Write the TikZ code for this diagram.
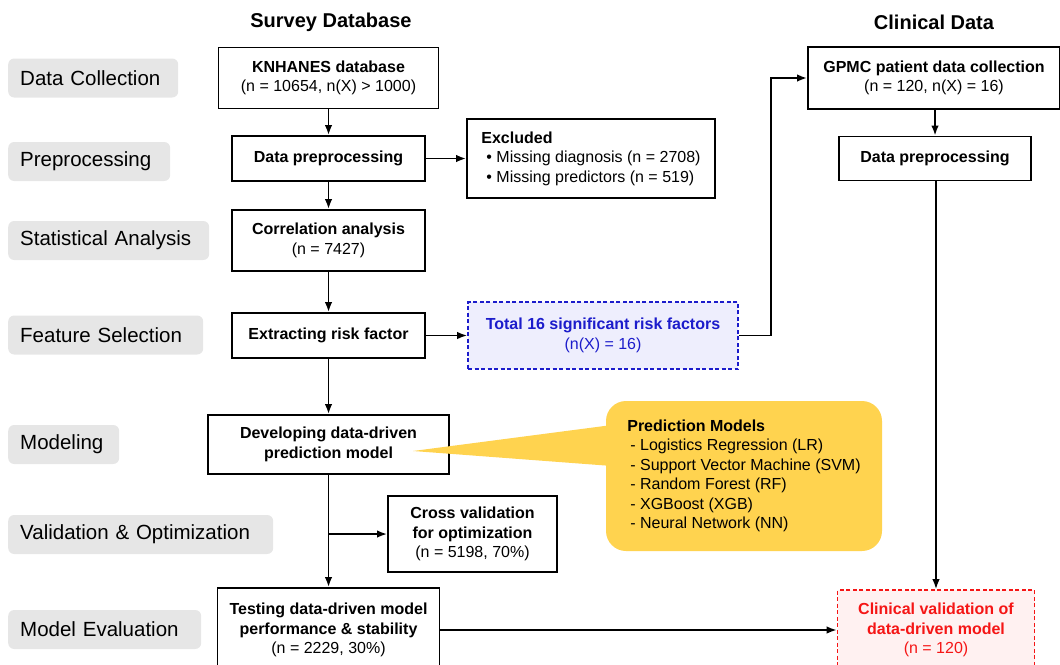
\documentclass[tikz,border=0pt]{standalone}
\usepackage{fontspec}
\setmainfont{Liberation Sans}
\usetikzlibrary{arrows.meta}

\definecolor{stagegray}{HTML}{E6E6E6}
\definecolor{calloutyellow}{HTML}{FFD34F}
\definecolor{factorblue}{HTML}{1C1CCB}
\definecolor{factorfill}{HTML}{EEEEFD}
\definecolor{clinred}{HTML}{F51515}
\definecolor{clinfill}{HTML}{FFF1F1}

\tikzset{
  stage/.style={fill=stagegray,rounded corners=6pt,minimum height=39pt,inner xsep=12pt,
    anchor=west,align=left,font=\fontsize{20.5}{24}\selectfont},
  flowbox/.style={draw,line width=1.9pt,align=center,inner sep=0pt,font=\fontsize{16}{19.5}\selectfont},
  arr/.style={-{Latex[length=10pt,width=7.5pt]},line width=1.7pt},
}

\begin{document}
\begin{tikzpicture}[x=1pt,y=-1pt]
  \clip (0,0) rectangle (1060,664);

  % column titles
  \path (331,22) node[font=\bfseries\fontsize{20}{24}\selectfont] (survey) {Survey Database};
  \path (934,22) node[font=\bfseries\fontsize{20}{24}\selectfont] (clinical) {Clinical Data};

  % stages
  \path (8,78) node[stage,text width=146pt] (collect) {Data Collection};
  \path (8,161.5) node[stage,text width=138pt] (preproc) {Preprocessing};
  \path (8,240.5) node[stage,text width=177pt] (stats) {Statistical Analysis};
  \path (8,335) node[stage,text width=171pt] (select) {Feature Selection};
  \path (8,444.5) node[stage,text width=87pt] (modeling) {Modeling};
  \path (8,534.5) node[stage,text width=241pt] (valid) {Validation \& Optimization};
  \path (8,629.5) node[stage,text width=169pt] (evaluate) {Model Evaluation};

  % survey side
  \path (328.5,78) node[flowbox,minimum width=220pt,minimum height=61pt] (knhanes)
    {\textbf{KNHANES database}\\(n = 10654, n(X) > 1000)};
  \path (328.5,158.5) node[flowbox,minimum width=193pt,minimum height=45pt] (prepA)
    {\textbf{Data preprocessing}};
  \path (591,158.5) node[flowbox,align=left,minimum width=248pt,minimum height=79pt] (excl)
    {\textbf{Excluded}\\\hspace{5pt}• Missing diagnosis (n = 2708)\\\hspace{5pt}• Missing predictors (n = 519)};
  \path (328.5,240.5) node[flowbox,minimum width=193pt,minimum height=61pt] (corr)
    {\textbf{Correlation analysis}\\(n = 7427)};
  \path (328.5,335.5) node[flowbox,minimum width=193pt,minimum height=45pt] (extr)
    {\textbf{Extracting risk factor}};
  \path (603,335.5) node[flowbox,draw=factorblue,fill=factorfill,text=factorblue,
    dash pattern=on 4pt off 2.5pt,line width=1.7pt,minimum width=270pt,minimum height=67pt] (total)
    {\textbf{Total 16 significant risk factors}\\(n(X) = 16)};
  \path (328.5,444.5) node[flowbox,minimum width=241pt,minimum height=59pt] (dev)
    {\textbf{Developing data-driven}\\\textbf{prediction model}};
  \path (472.5,534) node[flowbox,minimum width=169pt,minimum height=76pt] (cross)
    {\textbf{Cross validation}\\\textbf{for optimization}\\(n = 5198, 70\%)};
  \path (328.5,630) node[flowbox,minimum width=222pt,minimum height=84pt] (test)
    {\textbf{Testing data-driven model}\\\textbf{performance \& stability}\\(n = 2229, 30\%)};

  % clinical side
  \path (934,78) node[flowbox,minimum width=252pt,minimum height=62pt] (gpmc)
    {\textbf{GPMC patient data collection}\\(n = 120, n(X) = 16)};
  \path (935,158.5) node[flowbox,minimum width=192pt,minimum height=44pt] (prepB)
    {\textbf{Data preprocessing}};
  \path (936,630) node[flowbox,draw=clinred,fill=clinfill,text=clinred,
    dash pattern=on 4pt off 2.5pt,line width=1.7pt,minimum width=197pt,minimum height=80pt] (clin)
    {\textbf{Clinical validation of}\\\textbf{data-driven model}\\(n = 120)};

  % model list callout
  \coordinate (tip) at (413,451);
  \path (744,476) node[fill=calloutyellow,rounded corners=20pt,minimum width=276pt,minimum height=150pt,
    align=left,font=\fontsize{16}{19.5}\selectfont] (models)
    {\textbf{Prediction Models}\\
     \hspace{3pt}- Logistics Regression (LR)\\
     \hspace{3pt}- Support Vector Machine (SVM)\\
     \hspace{3pt}- Random Forest (RF)\\
     \hspace{3pt}- XGBoost (XGB)\\
     \hspace{3pt}- Neural Network (NN)};
  \fill[calloutyellow] (tip) -- (612,425) -- (612,466) -- cycle;

  % connectors
  \coordinate (jog) at (771,335.5);
  \coordinate (split) at (328.5,534);
  \draw[arr] (knhanes) -- (prepA);
  \draw[arr] (prepA) -- (excl);
  \draw[arr] (prepA) -- (corr);
  \draw[arr] (corr) -- (extr);
  \draw[arr] (extr) -- (total);
  \draw[arr] (total) -- (jog) |- (gpmc);
  \draw[arr] (gpmc.south -| prepB) -- (prepB);
  \draw[arr] (prepB.south -| clin) -- (clin);
  \draw[arr] (extr) -- (dev);
  \draw[arr] (dev) -- (test);
  \draw[arr] (split) -- (cross);
  \draw[arr] (test) -- (clin);
\end{tikzpicture}
\end{document}
